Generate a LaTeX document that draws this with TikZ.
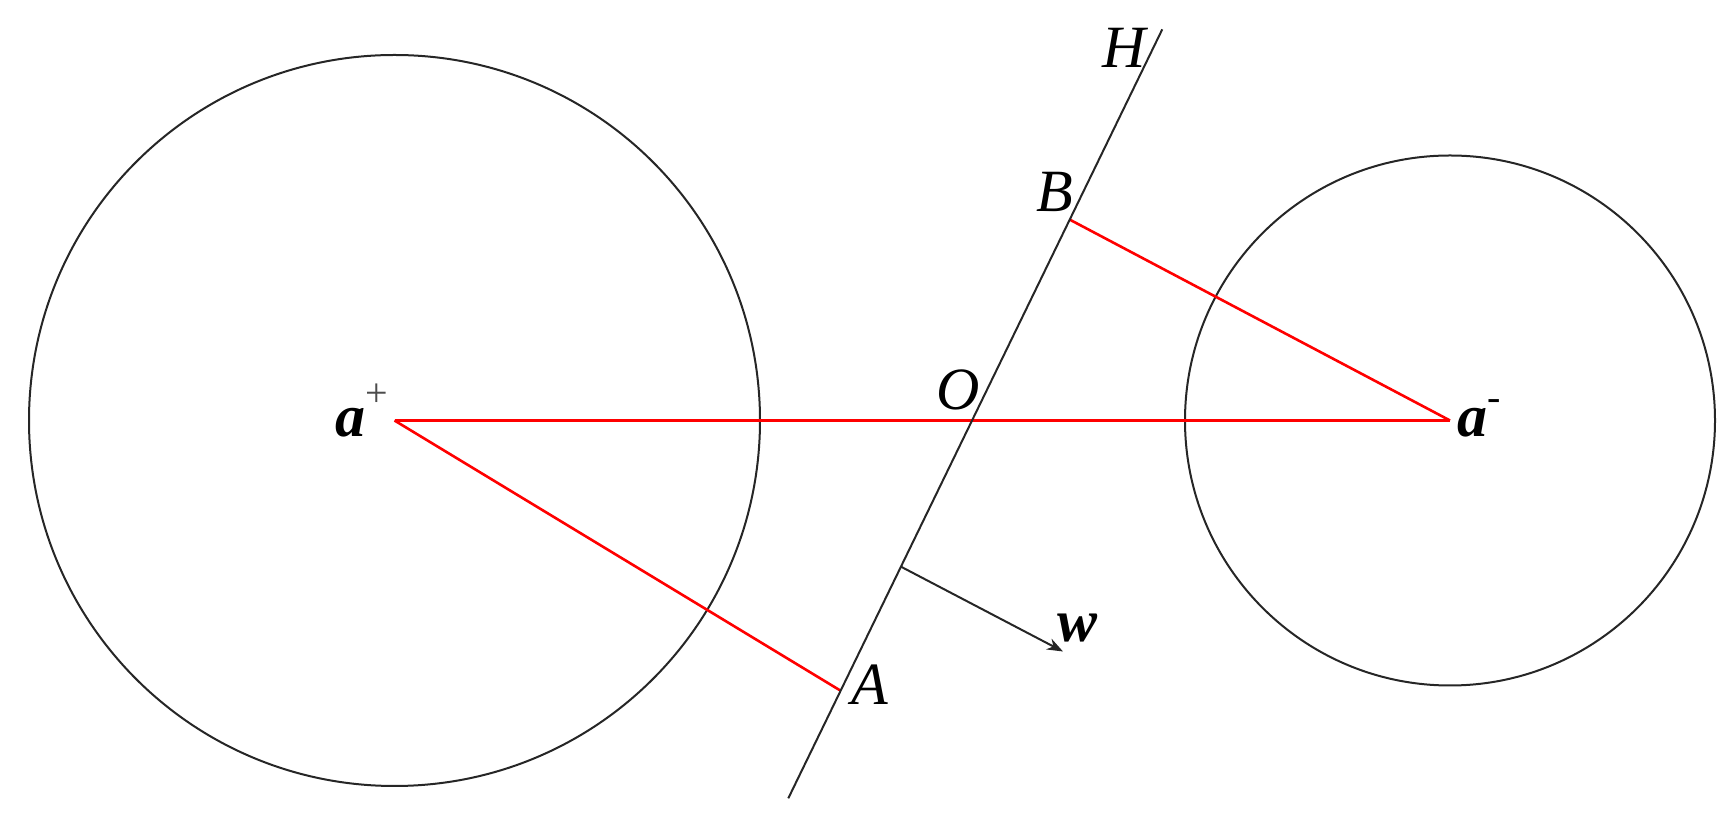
\documentclass[tikz,border=0pt]{standalone}
\usepackage{fontspec}
\setmainfont{Liberation Serif}
\usetikzlibrary{arrows.meta}
\begin{document}
\begin{tikzpicture}[x=0.5pt,y=-0.5pt,
  blk/.style={line width=1pt,black!85},
  redline/.style={line width=1.3pt,red},
  lbl/.style={inner sep=0pt,anchor=base,font=\fontsize{30pt}{36pt}\selectfont\itshape},
  vec/.style={inner sep=0pt,anchor=base west,font=\fontsize{30pt}{36pt}\selectfont\bfseries\itshape},
  supstyle/.style={}]
\useasboundingbox (0,0) rectangle (1731,822);
\coordinate (ap) at (394.5,420.5);
\coordinate (am) at (1450,420.5);
\coordinate (Hbot) at (788.3,798.3);
\coordinate (Htop) at (1162.3,29.3);
\coordinate (Bp) at (1069.5,219.5);
\coordinate (Ap) at (840.6,690.7);
\coordinate (Wfoot) at (901,566.7);
\coordinate (Wend) at (1063,651.5);

\draw[blk] (ap) circle[radius=182.75pt];
\draw[blk] (am) circle[radius=132.5pt];
\draw[redline] (ap) -- (am);
\draw[redline] (ap) -- (Ap);
\draw[redline] (am) -- (Bp);
\draw[blk] (Hbot) -- (Htop);
\draw[blk,-{Stealth[length=8pt,width=6pt]}] (Wfoot) -- (Wend);

\node[lbl] (H) at (1124,68) {H};
\node[lbl] (B) at (1055,212) {B};
\node[lbl] (O) at (958,410) {O};
\node[lbl] (A) at (870,705) {A};
\node[vec] (lap) at (335,437) {a\raisebox{15pt}{\fontsize{20pt}{20pt}\selectfont\mdseries\upshape\color{black!70}+}};
\node[vec] (lam) at (1457,437) {a\raisebox{13pt}{\fontsize{20pt}{20pt}\selectfont\mdseries\upshape -}};
\node[vec] (lw) at (1057,642) {w};
\end{tikzpicture}
\end{document}
